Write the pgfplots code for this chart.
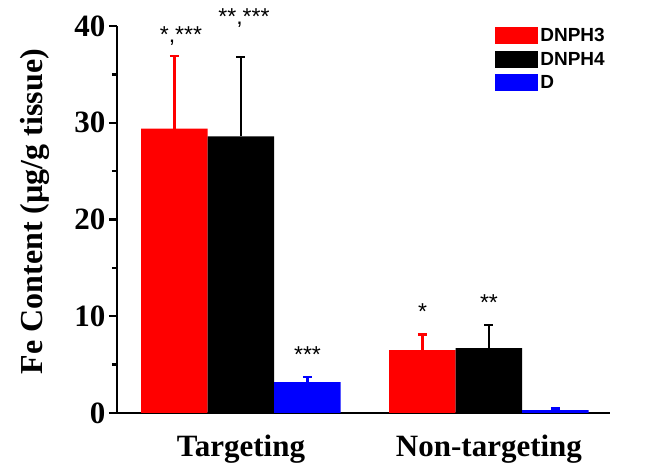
\documentclass[border=0pt]{standalone}
\usepackage{fontspec}
\setmainfont{Liberation Serif}
\newfontfamily\arial{Liberation Sans}
\usepackage{pgfplots}
\pgfplotsset{compat=1.18}
\definecolor{barred}{RGB}{255,0,0}
\definecolor{barblue}{RGB}{0,0,255}

\begin{document}
\begin{tikzpicture}
\path[use as bounding box] (-117pt,-58pt) rectangle (537pt,413pt);
\begin{axis}[
  at={(0pt,0pt)}, anchor=south west,
  scale only axis, width=493pt, height=387pt,
  ybar=0pt, bar width=66.5pt,
  xmin=-0.5, xmax=1.488,
  ymin=0, ymax=40,
  axis x line=bottom, axis y line=left,
  axis line style={line width=2.6pt, -},
  x axis line style={shorten <=-7pt},
  xtick={0,1}, xticklabels={Targeting, Non-targeting},
  major x tick style={draw=none},
  ytick={0,10,20,30,40}, minor y tick num=1,
  tick align=outside,
  major tick length=8pt, minor tick length=5pt,
  every tick/.style={line width=2.4pt, black},
  tick label style={font=\fontsize{31}{32}\selectfont\bfseries},
  /pgf/number format/assume math mode=true,
  xticklabel style={yshift=-10pt},
  ylabel={Fe Content (µg/g tissue)},
  ylabel style={font=\fontsize{32}{33}\selectfont\bfseries, yshift=18pt, xshift=8pt},
  legend style={at={(rel axis cs:0.767,1.0)}, anchor=north west, draw=none,
    font=\arial\fontsize{19}{20}\selectfont\bfseries, inner sep=0pt,
    row sep=5pt, fill=none},
  legend image code/.code={\fill[#1] (0pt,-8.5pt) rectangle (43pt,8.5pt);},
  legend cell align=left,
  every legend entry/.append style={xshift=3pt},
  error bars/y dir=plus, error bars/y explicit,
  clip=false,
]
  \addplot[fill=barred, draw=none,
    error bars/error bar style={barred, line width=2.5pt},
    error bars/error mark options={barred, rotate=90, mark size=4.5pt, line width=2.5pt}]
    coordinates {(0,29.4) +- (0,7.5) (1,6.5) +- (0,1.6)};
  \addlegendentry{DNPH3}
  \addplot[fill=black, draw=none,
    error bars/error bar style={black, line width=2.5pt},
    error bars/error mark options={black, rotate=90, mark size=4.5pt, line width=2.5pt}]
    coordinates {(0,28.6) +- (0,8.2) (1,6.7) +- (0,2.4)};
  \addlegendentry{DNPH4}
  \addplot[fill=barblue, draw=none,
    error bars/error bar style={barblue, line width=2.5pt},
    error bars/error mark options={barblue, rotate=90, mark size=4.5pt, line width=2.5pt}]
    coordinates {(0,3.2) +- (0,0.5) (1,0.3) +- (0,0.15)};
  \addlegendentry{D}
  \begin{scope}[every node/.style={font=\arial\fontsize{23}{24}\selectfont}]
    \node at (axis cs:0,39.0) [xshift=-60pt] {*,***};
    \node at (axis cs:0,40.8) [xshift=3pt] {**,***};
    \node at (axis cs:0,6.0) [xshift=66.5pt] {***};
    \node at (axis cs:1,10.5) [xshift=-66.5pt] {*};
    \node at (axis cs:1,11.4) {**};
  \end{scope}
\end{axis}
\end{tikzpicture}
\end{document}
